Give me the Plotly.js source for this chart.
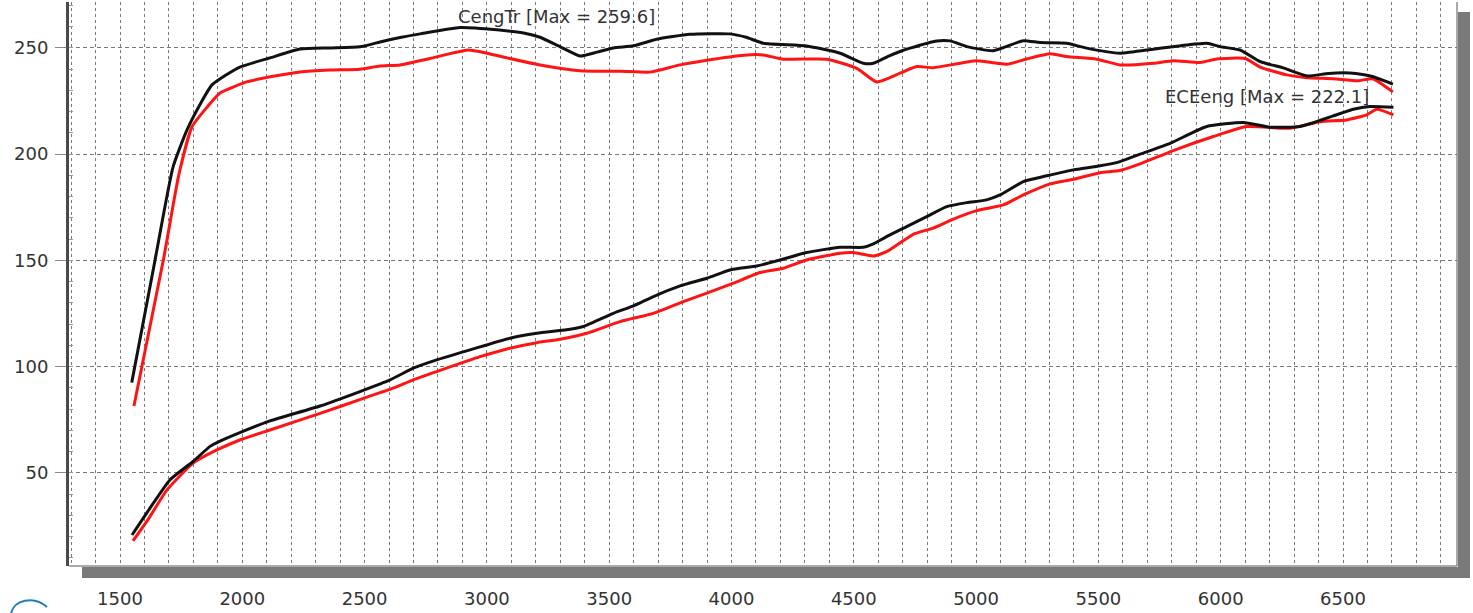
<!DOCTYPE html>
<html>
<head>
<meta charset="utf-8">
<script src="https://cdn.plot.ly/plotly-3.0.1.min.js"></script>
<style>
html,body{margin:0;padding:0;background:#fff;}
#chart{width:1473px;height:613px;}
</style>
</head>
<body>
<div id="chart"></div>
<script>
// CengTr, run A (black)
const rpmCengA = [1548,1643,1717,1774,1830,1876,1930,1990,2113,2236,2358,2481,2563,2650,2727,2890,3041,3150,3217,3300,3381,3450,3517,3600,3694,3830,3994,4060,4130,4307,4444,4539,4580,4640,4689,4730,4839,4894,4962,5070,5193,5261,5370,5452,5588,5725,5861,5944,5997,6079,6160,6255,6353,6440,6528,6580,6623,6704];
const cengA = [92.5,150,194,211.4,224,232.6,237,241,245.3,249.5,250,250.5,252.8,255,256.6,259.6,258.5,257,255,250.5,246.2,248,250,251,254.1,256.4,256.6,255,252.2,250.9,247.5,242.8,242.8,246,248.3,249.9,253.3,253.3,250.6,248.7,253.4,252.5,252.2,249.9,247.5,249.4,251.4,252.2,250.6,249,243.6,240.6,236.8,238,238.2,237.5,236.4,233];
// CengTr, run B (red)
const rpmCengB = [1557,1677,1740,1794,1855,1909,2018,2120,2236,2358,2481,2563,2645,2767,2923,3000,3082,3217,3381,3550,3667,3790,3926,4063,4130,4212,4389,4512,4594,4689,4757,4825,5002,5125,5207,5303,5370,5493,5588,5725,5806,5916,5984,6100,6161,6271,6353,6460,6560,6620,6704];
const cengB = [81.5,150,190,212.8,222,228.8,234,236.5,238.7,239.6,240,241.5,242,245,249,247.5,245.3,242,239.3,239,238.6,242,244.7,246.7,246.7,244.7,244.7,240.4,234,238.1,241.2,240.7,243.9,242.3,244.8,247.2,245.9,244.7,242,242.8,244,243.1,244.8,245,241,237.3,236,235.5,234.5,235.5,229.3];
// ECEeng, run A (black)
const rpmEceA = [1549,1620,1704,1800,1868,1909,1990,2113,2318,2481,2604,2699,2795,2931,3094,3204,3340,3395,3517,3599,3681,3790,3899,3994,4103,4198,4307,4444,4539,4580,4634,4716,4798,4880,4962,5043,5098,5193,5289,5398,5507,5588,5670,5793,5943,6093,6201,6324,6460,6542,6610,6706];
const eceA = [20.8,33,46.7,55.5,62.5,65,69,74.5,81.5,88.3,93.8,99.3,103.2,107.9,113.4,115.7,117.6,118.9,125.1,128.6,133,138,141.6,145.5,147.4,150.2,153.7,156.2,156.2,157.8,161.2,165.9,170.6,175.3,177.2,178.5,180.8,187.1,189.8,192.6,194.5,196.5,200,205.1,213,214.9,212.7,213,218,221.1,222.4,222.1];
// ECEeng, run B (red)
const rpmEceB = [1553,1620,1692,1800,1896,1990,2113,2318,2495,2617,2699,2795,2972,3094,3204,3299,3408,3544,3681,3803,3899,4008,4117,4212,4307,4444,4498,4580,4634,4743,4825,4907,5002,5111,5193,5303,5398,5507,5588,5670,5806,5970,6106,6283,6406,6515,6597,6638,6706];
const eceB = [18,29,42,54.7,60.8,65.5,70.2,78,85.1,89.9,93.8,97.7,104.7,108.7,111.3,112.9,115.7,121.2,125.1,130.6,134.6,139.3,144.3,146.3,150.2,153.4,153.7,152.1,154.1,162.3,165.2,169.4,173.4,176.1,180.8,186,188.2,191.3,192.3,195.4,201.7,208.3,213,212.2,215.3,216.1,218.5,221.1,218.5];

const xTicks = [1500,2000,2500,3000,3500,4000,4500,5000,5500,6000,6500];
const yTicks = [50,100,150,200,250];
const labelCeng = 'CengTr [Max = 259.6]';
const labelEce = 'ECEeng [Max = 222.1]';

const BLACK = '#111111', RED = '#ff1414';
const mk = (x, y, c) => ({x: x, y: y, type: 'scatter', mode: 'lines', line: {color: c, width: 3, shape: 'spline', smoothing: 0.5}, hoverinfo: 'skip'});
const data = [mk(rpmCengB, cengB, RED), mk(rpmCengA, cengA, BLACK), mk(rpmEceB, eceB, RED), mk(rpmEceA, eceA, BLACK)];

// pixel -> paper helpers for decoration
const L = 69, R = 1457, T = 2, B = 566;
const px = v => (v - L) / (R - L);
const py = v => (B - v) / (B - T);

const FONT = 'DejaVu Sans, Liberation Sans, Arial, sans-serif';
const TF = {family: FONT, size: 18, color: '#333333'};
const layout = {
  width: 1473, height: 613,
  margin: {l: L, r: 1473 - R, t: T, b: 613 - B, pad: 0},
  paper_bgcolor: '#ffffff', plot_bgcolor: '#ffffff',
  showlegend: false,
  font: TF,
  xaxis: {
    range: [1291.5, 6966], tickmode: 'array', tickvals: xTicks,
    ticks: 'outside', ticklen: 14, tickcolor: 'rgba(0,0,0,0)', ticklabelstandoff: 2,
    showgrid: true, gridcolor: '#7a7a7a', griddash: 'dot', gridwidth: 1,
    minor: {dtick: 100, showgrid: true, gridcolor: '#7a7a7a', griddash: 'dot', gridwidth: 1},
    showline: false, zeroline: false, tickfont: TF
  },
  yaxis: {
    range: [6.2, 271.6], tickmode: 'array', tickvals: yTicks,
    ticks: 'outside', ticklen: 11, tickcolor: '#8a8a8a', tickwidth: 1, ticklabelstandoff: 3,
    showgrid: true, gridcolor: '#7a7a7a', griddash: '4px,3px', gridwidth: 1,
    minor: {dtick: 10, ticks: 'inside', ticklen: 4, tickcolor: '#9a9a9a', showgrid: false},
    showline: true, linecolor: '#4a4a4a', linewidth: 3, zeroline: false,
    tickfont: TF
  },
  shapes: [
    {type: 'rect', xref: 'paper', yref: 'paper', x0: px(82), x1: px(1470), y0: py(578), y1: py(567), fillcolor: '#7a7a7a', line: {width: 0}, layer: 'below'},
    {type: 'rect', xref: 'paper', yref: 'paper', x0: px(1458), x1: px(1470), y0: py(578), y1: py(12), fillcolor: '#7a7a7a', line: {width: 0}, layer: 'below'},
    {type: 'line', xref: 'paper', yref: 'paper', x0: 1, x1: 1, y0: 0, y1: 1, line: {color: '#555', width: 1}},
    {type: 'line', xref: 'paper', yref: 'paper', x0: 0, x1: 1, y0: 0, y1: 0, line: {color: '#555', width: 1}},
    {type: 'path', xref: 'paper', yref: 'paper',
     path: 'M ' + px(11) + ',' + py(614) + ' C ' + px(13) + ',' + py(600) + ' ' + px(34) + ',' + py(595) + ' ' + px(47) + ',' + py(607),
     line: {color: '#1e7fb8', width: 2}}
  ],
  annotations: [
    {x: 3283, y: 264.6, xref: 'x', yref: 'y', text: labelCeng, showarrow: false, font: TF},
    {x: 6189, y: 227.1, xref: 'x', yref: 'y', text: labelEce, showarrow: false, font: TF}
  ]
};
Plotly.newPlot('chart', data, layout, {displayModeBar: false, staticPlot: true});
</script>
</body>
</html>
